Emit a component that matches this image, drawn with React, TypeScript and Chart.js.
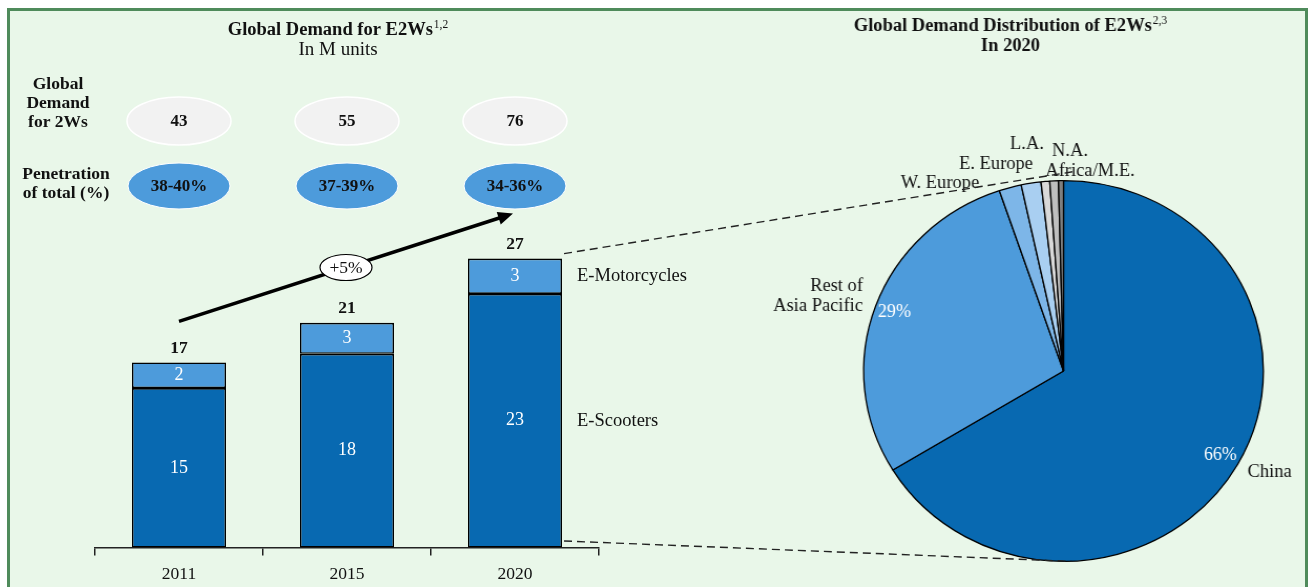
import React, { useEffect, useRef } from "react";
import { Chart, registerables } from "chart.js";

Chart.register(...registerables);

// ---------------- data ----------------
const years = ["2011", "2015", "2020"];
const eScooters = [14.9, 18.1, 23.7];
const eMotorcycles = [2.4, 2.9, 3.3];
const eScooterLabels = ["15", "18", "23"];
const eMotorcycleLabels = ["2", "3", "3"];
const totalLabels = ["17", "21", "27"];
const globalDemand2W = ["43", "55", "76"];
const penetrationOfTotal = ["38-40%", "37-39%", "34-36%"];
const growthLabel = "+5%";
const seriesNames = ["E-Scooters", "E-Motorcycles"];

const regions = ["China", "Rest of Asia Pacific", "W. Europe", "E. Europe", "L.A.", "N.A.", "Africa/M.E."];
const regionShares = [66.3, 28.5, 1.8, 1.6, 0.7, 0.7, 0.4];

// ---------------- layout / style ----------------
const W = 1309;
const H = 587;
const SERIF = "'Liberation Serif', 'Times New Roman', serif";
const INK = "#111111";
const DARK_BLUE = "#0869b1";
const MID_BLUE = "#4d9bdb";
const regionColors = [DARK_BLUE, MID_BLUE, "#7db6e8", "#a9cff1", "#d9d9d9", "#bfbfbf", "#808080"];
const PIE_CX = 1063.5;
const PIE_CY = 371;
const PIE_R = 191;
const PIE_SX = 1.05;

const fReg = (s: number) => `${s}px ${SERIF}`;
const fBold = (s: number) => `bold ${s}px ${SERIF}`;

// label placement for pie callouts (screen offsets from pie centre)
const pieCallouts = [
  { lines: ["China"], dx: 184, dy: 101, align: "left" },
  { lines: ["Rest of", "Asia Pacific"], dx: -200.5, dy: -85, align: "right" },
  { lines: ["W. Europe"], dx: -123.5, dy: -188, align: "center" },
  { lines: ["E. Europe"], dx: -67.5, dy: -207, align: "center" },
  { lines: ["L.A."], dx: -36.5, dy: -227, align: "center" },
  { lines: ["N.A."], dx: 6.5, dy: -220, align: "center" },
  { lines: ["Africa/M.E."], dx: 26.5, dy: -200, align: "center" },
];

function txt(
  ctx: CanvasRenderingContext2D,
  s: string,
  x: number,
  y: number,
  font: string,
  color = INK,
  align: CanvasTextAlign = "center"
) {
  ctx.font = font;
  ctx.fillStyle = color;
  ctx.textAlign = align;
  ctx.textBaseline = "middle";
  ctx.fillText(s, x, y);
}

function titleSup(ctx: CanvasRenderingContext2D, main: string, sup: string, cx: number, y: number) {
  const mf = fBold(18.5);
  const sf = fReg(11.5);
  ctx.font = mf;
  const w1 = ctx.measureText(main).width;
  ctx.font = sf;
  const w2 = ctx.measureText(sup).width;
  const x0 = cx - (w1 + w2 + 1) / 2;
  txt(ctx, main, x0, y, mf, INK, "left");
  txt(ctx, sup, x0 + w1 + 1, y - 5, sf, INK, "left");
}

function ellipse(ctx: CanvasRenderingContext2D, x: number, y: number, rx: number, ry: number, fill: string, stroke: string, lw: number) {
  ctx.beginPath();
  ctx.ellipse(x, y, rx, ry, 0, 0, Math.PI * 2);
  ctx.fillStyle = fill;
  ctx.fill();
  ctx.lineWidth = lw;
  ctx.strokeStyle = stroke;
  ctx.stroke();
}

export default function App() {
  const barRef = useRef<HTMLCanvasElement | null>(null);
  const pieRef = useRef<HTMLCanvasElement | null>(null);

  useEffect(() => {
    if (!barRef.current || !pieRef.current) return;

    const pieLabelPlugin = {
      id: "pieLabels",
      afterDraw(chart: any) {
        const ctx: CanvasRenderingContext2D = chart.ctx;
        const arcs = chart.getDatasetMeta(0).data;
        const cx = arcs[0].x;
        const cy = arcs[0].y;
        const r = arcs[0].outerRadius;
        ctx.save();
        // undo the horizontal stretch for text
        ctx.translate(cx, 0);
        ctx.scale(1 / PIE_SX, 1);
        ctx.translate(-cx, 0);

        titleSup(ctx, "Global Demand Distribution of E2Ws", "2,3", 1010.5, 26);
        txt(ctx, "In 2020", 1010.5, 46, fBold(18.5));

        [0, 1].forEach((i) => {
          const a = arcs[i];
          const mid = (a.startAngle + a.endAngle) / 2;
          const x = cx + Math.cos(mid) * r * 0.9 * PIE_SX;
          const y = cy + Math.sin(mid) * r * 0.9;
          txt(ctx, `${Math.round(regionShares[i])}%`, x, y, fReg(18), "#ffffff");
        });

        pieCallouts.forEach((c) => {
          c.lines.forEach((ln, k) => {
            txt(ctx, ln, cx + c.dx, cy + c.dy + k * 20, fReg(18.5), INK, c.align as CanvasTextAlign);
          });
        });
        ctx.restore();
      },
    };

    const pie = new Chart(pieRef.current, {
      type: "pie",
      data: {
        labels: regions,
        datasets: [
          {
            data: regionShares,
            backgroundColor: regionColors,
            borderColor: "#000000",
            borderWidth: 1.3,
          },
        ],
      },
      options: {
        responsive: false,
        animation: false,
        events: [],
        layout: {
          padding: {
            left: PIE_CX - PIE_R,
            right: W - (PIE_CX + PIE_R),
            top: PIE_CY - PIE_R,
            bottom: H - (PIE_CY + PIE_R),
          },
        },
        plugins: { legend: { display: false }, tooltip: { enabled: false } },
      },
      plugins: [pieLabelPlugin],
    } as any);

    const barPlugin = {
      id: "barDecor",
      afterDraw(chart: any) {
        const ctx: CanvasRenderingContext2D = chart.ctx;
        const xs = chart.scales.x;
        const m0 = chart.getDatasetMeta(0).data;
        const m1 = chart.getDatasetMeta(1).data;
        ctx.save();

        // titles
        titleSup(ctx, "Global Demand for E2Ws", "1,2", 338, 30);
        txt(ctx, "In M units", 338, 50, fReg(19));

        // row labels
        ["Global", "Demand", "for 2Ws"].forEach((s, k) => txt(ctx, s, 58, 84 + k * 19, fBold(17.5)));
        ["Penetration", "of total (%)"].forEach((s, k) => txt(ctx, s, 66, 174 + k * 19, fBold(17.5)));

        // ellipses
        years.forEach((_, i) => {
          const cx = xs.getPixelForValue(i);
          ellipse(ctx, cx, 121, 52, 24, "#f2f2f2", "#ffffff", 1.5);
          txt(ctx, globalDemand2W[i], cx, 122, fBold(17));
          ellipse(ctx, cx, 186, 51, 23, MID_BLUE, "#ffffff", 1);
          txt(ctx, penetrationOfTotal[i], cx, 187, fBold(17));
        });

        // growth arrow
        const last = m1.length - 1;
        const x1 = m1[0].x;
        const y1 = m1[0].y - 41;
        const x2 = m1[last].x - 2;
        const y2 = m1[last].y - 45;
        const ang = Math.atan2(y2 - y1, x2 - x1);
        const head = 15;
        const hw = 6.5;
        ctx.strokeStyle = "#000";
        ctx.fillStyle = "#000";
        ctx.lineWidth = 3.5;
        ctx.lineCap = "butt";
        ctx.beginPath();
        ctx.moveTo(x1, y1);
        ctx.lineTo(x2 - Math.cos(ang) * head * 0.8, y2 - Math.sin(ang) * head * 0.8);
        ctx.stroke();
        ctx.beginPath();
        ctx.moveTo(x2, y2);
        ctx.lineTo(x2 - head * Math.cos(ang) + hw * Math.sin(ang), y2 - head * Math.sin(ang) - hw * Math.cos(ang));
        ctx.lineTo(x2 - head * Math.cos(ang) - hw * Math.sin(ang), y2 - head * Math.sin(ang) + hw * Math.cos(ang));
        ctx.closePath();
        ctx.fill();
        const mx = (x1 + x2) / 2;
        const my = (y1 + y2) / 2;
        ellipse(ctx, mx, my, 26, 13, "#ffffff", "#000000", 1.2);
        txt(ctx, growthLabel, mx, my + 1, fReg(17.5));

        // value labels
        m0.forEach((el: any, i: number) => txt(ctx, eScooterLabels[i], el.x, (el.y + el.base) / 2, fReg(18), "#ffffff"));
        m1.forEach((el: any, i: number) => {
          txt(ctx, eMotorcycleLabels[i], el.x, (el.y + el.base) / 2, fReg(18), "#ffffff");
          txt(ctx, totalLabels[i], el.x, el.y - 14, fBold(17.5), INK);
        });

        // series labels
        const right = m1[last].x + m1[last].width / 2;
        txt(ctx, seriesNames[1], right + 15, (m1[last].y + m1[last].base) / 2, fReg(18.5), INK, "left");
        txt(ctx, seriesNames[0], right + 15, (m0[last].y + m0[last].base) / 2, fReg(18.5), INK, "left");

        // dashed connectors to pie
        const arc = pie.getDatasetMeta(0).data[0] as any;
        const topY = arc.y - arc.outerRadius;
        const botY = arc.y + arc.outerRadius;
        ctx.setLineDash([8, 5]);
        ctx.lineWidth = 1.4;
        ctx.strokeStyle = "#222";
        ctx.beginPath();
        ctx.moveTo(right + 2, m1[last].y - 5);
        ctx.lineTo(arc.x + 10, topY - 9);
        ctx.moveTo(right + 2, m0[last].base - 6.5);
        ctx.lineTo(arc.x + 8, botY);
        ctx.stroke();
        ctx.restore();
      },
    };

    const bar = new Chart(barRef.current, {
      type: "bar",
      data: {
        labels: years,
        datasets: [
          {
            label: seriesNames[0],
            data: eScooters,
            backgroundColor: DARK_BLUE,
            borderColor: "#000000",
            borderWidth: 1.6,
            borderSkipped: false,
            barPercentage: 0.56,
            categoryPercentage: 1,
          },
          {
            label: seriesNames[1],
            data: eMotorcycles,
            backgroundColor: MID_BLUE,
            borderColor: "#000000",
            borderWidth: 1.6,
            borderSkipped: false,
            barPercentage: 0.56,
            categoryPercentage: 1,
          },
        ],
      },
      options: {
        responsive: false,
        animation: false,
        events: [],
        layout: { padding: { left: 95, right: W - 599, top: 226.5, bottom: 0 } },
        plugins: { legend: { display: false }, tooltip: { enabled: false } },
        scales: {
          x: {
            stacked: true,
            offset: true,
            grid: {
              offset: true,
              drawOnChartArea: false,
              drawTicks: true,
              tickLength: 8,
              color: "#222",
              lineWidth: 1.5,
            },
            border: { display: true, color: "#222", width: 1.5 },
            ticks: { color: INK, font: { family: SERIF, size: 17.5 }, padding: 8 },
            afterFit: (s: any) => {
              s.height = 39.5;
            },
          },
          y: { stacked: true, display: false, min: 0, max: 30 },
        },
      },
      plugins: [barPlugin],
    } as any);

    return () => {
      bar.destroy();
      pie.destroy();
    };
  }, []);

  return (
    <div style={{ position: "absolute", left: 0, top: 0, width: W, height: H, overflow: "hidden", background: "#ffffff" }}>
      <div
        style={{
          position: "absolute",
          left: 7,
          top: 8,
          width: 1301,
          height: 640,
          border: "3px solid #4f8b5b",
          background: "#e9f7e9",
          boxSizing: "border-box",
        }}
      />
      <canvas
        ref={pieRef}
        width={W}
        height={H}
        style={{
          position: "absolute",
          left: 0,
          top: 0,
          width: W,
          height: H,
          transform: `scaleX(${PIE_SX})`,
          transformOrigin: `${PIE_CX}px 0px`,
        }}
      />
      <canvas ref={barRef} width={W} height={H} style={{ position: "absolute", left: 0, top: 0, width: W, height: H }} />
    </div>
  );
}
